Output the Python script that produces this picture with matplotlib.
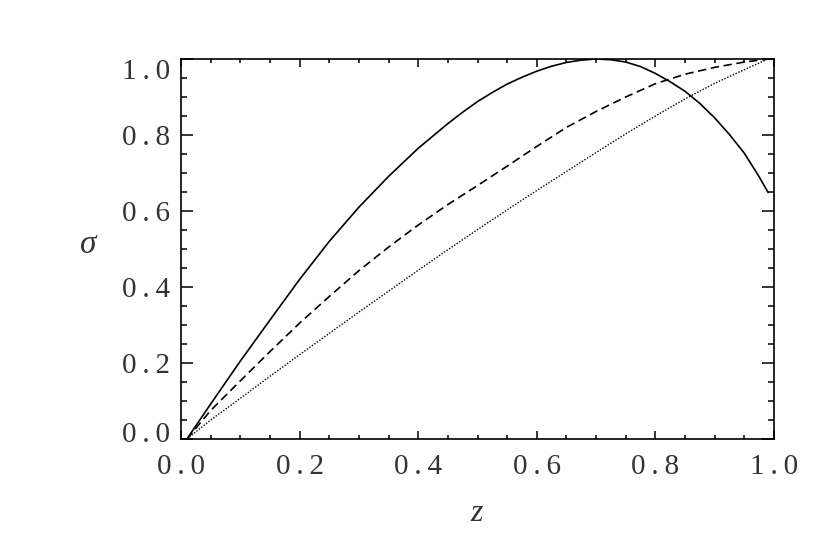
import matplotlib
matplotlib.use('Agg')
import matplotlib.pyplot as plt
import matplotlib.transforms as mtransforms
from matplotlib.ticker import MultipleLocator, FuncFormatter

# values
z = [0.01, 0.05, 0.10, 0.15, 0.20, 0.25, 0.30, 0.35, 0.40, 0.45, 0.50,
     0.55, 0.60, 0.65, 0.70, 0.75, 0.80, 0.85, 0.90, 0.95, 0.99]
sigma_dashed = [0.000, 0.075, 0.153, 0.230, 0.305, 0.375, 0.443, 0.505, 0.563, 0.617, 0.667,
                0.718, 0.770, 0.820, 0.862, 0.900, 0.935, 0.960, 0.978, 0.992, 1.000]
sigma_dotted = [0.000, 0.050, 0.107, 0.165, 0.222, 0.278, 0.334, 0.389, 0.444, 0.498, 0.551,
                0.603, 0.654, 0.704, 0.754, 0.803, 0.850, 0.895, 0.936, 0.972, 1.000]
# solid curve bends more, read it on a finer grid
z_solid = [0.01, 0.05, 0.10, 0.15, 0.20, 0.25, 0.30, 0.35, 0.40, 0.45, 0.475, 0.50,
           0.525, 0.55, 0.575, 0.60, 0.625, 0.65, 0.675, 0.70, 0.725, 0.75, 0.775,
           0.80, 0.825, 0.85, 0.875, 0.90, 0.925, 0.95, 0.975, 0.99]
sigma_solid = [0.000, 0.092, 0.205, 0.313, 0.420, 0.520, 0.610, 0.691, 0.765, 0.830, 0.860, 0.888,
               0.912, 0.934, 0.952, 0.968, 0.981, 0.991, 0.997, 1.000, 0.998, 0.992, 0.980,
               0.962, 0.940, 0.915, 0.883, 0.845, 0.801, 0.752, 0.690, 0.649]
xticks = [0.0, 0.2, 0.4, 0.6, 0.8, 1.0]
yticks = [0.0, 0.2, 0.4, 0.6, 0.8, 1.0]

font = ['Liberation Serif', 'DejaVu Serif']
tcol = '#333333'

fig = plt.figure(figsize=(8.3, 5.54), dpi=100, facecolor='white')
ax = fig.add_axes([181/830., 115/554., 593/830., 380/554.])

ax.plot(z_solid, sigma_solid, color='black', lw=1.2, ls='-')
ax.plot(z, sigma_dashed, color='black', lw=1.2, ls=(0, (5.0, 2.8)))
ax.plot(z, sigma_dotted, color='black', lw=1.0, ls=(0, (1.0, 1.2)))

ax.set_xlim(0, 1)
ax.set_ylim(0, 1)
ax.set_xticks(xticks)
ax.set_yticks(yticks)
ax.xaxis.set_minor_locator(MultipleLocator(0.05))
ax.yaxis.set_minor_locator(MultipleLocator(0.05))

# spaced out labels, a bit like the IDL vector font
fmt = FuncFormatter(lambda v, p: '\u2009'.join('%.1f' % v))
ax.xaxis.set_major_formatter(fmt)
ax.yaxis.set_major_formatter(fmt)

for s in ax.spines.values():
    s.set_linewidth(1.2)
ax.tick_params(which='both', direction='in', top=True, right=True, width=1.1,
               labelsize=21, labelcolor=tcol)
ax.tick_params(axis='x', which='major', length=5.8, pad=11)
ax.tick_params(axis='x', which='minor', length=2.9)
ax.tick_params(axis='y', which='major', length=8.6, pad=8)
ax.tick_params(axis='y', which='minor', length=4.2)
for lab in ax.get_xticklabels() + ax.get_yticklabels():
    lab.set_family(font)

# IDL pulls the end labels of the y axis inward
ylabs = ax.get_yticklabels()
ylabs[0].set_transform(ylabs[0].get_transform() +
                       mtransforms.ScaledTranslation(0, 0.07, fig.dpi_scale_trans))
ylabs[-1].set_transform(ylabs[-1].get_transform() +
                        mtransforms.ScaledTranslation(0, -0.10, fig.dpi_scale_trans))

ax.set_xlabel('z', fontsize=23, style='italic', family=font, color=tcol,
              ha='center', va='center')
ax.xaxis.set_label_coords(0.499, -0.195)
ax.set_ylabel('\u03c3', fontsize=24, style='italic', family=font, color=tcol,
              rotation=0, ha='center', va='center')
ax.yaxis.set_label_coords(-0.157, 0.51)

fig.savefig('out.png', dpi=100, facecolor='white')
